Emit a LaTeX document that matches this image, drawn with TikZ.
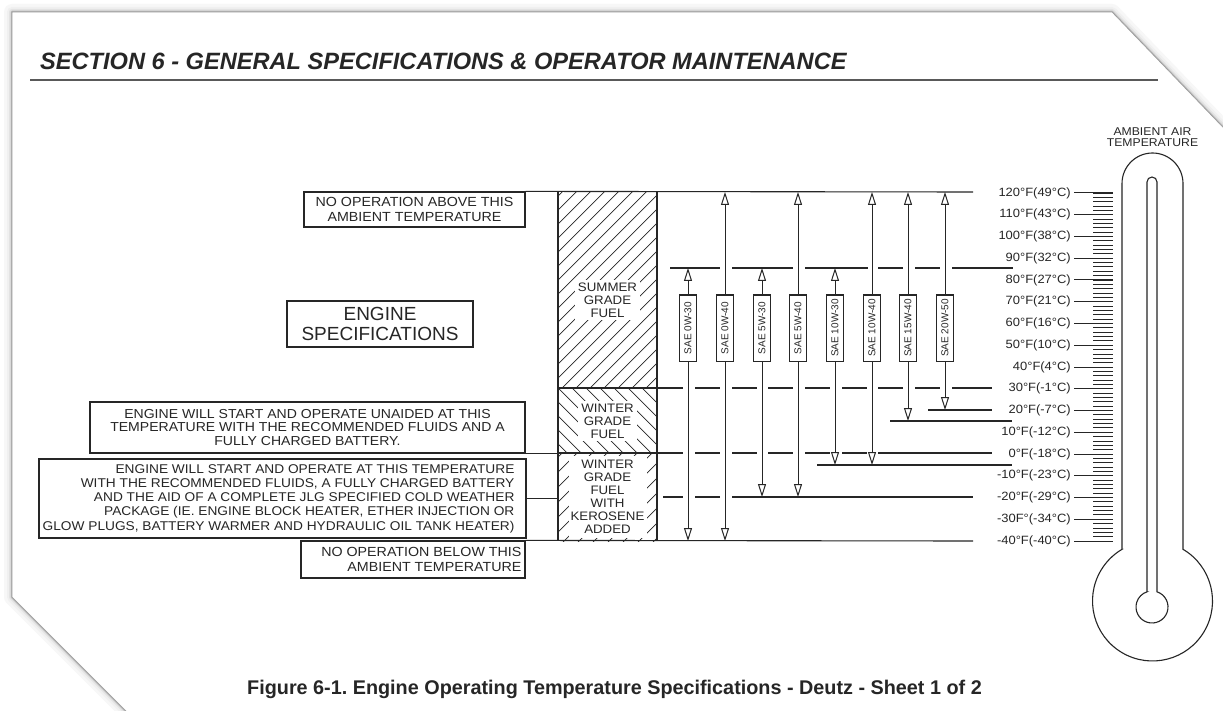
\documentclass[tikz,border=0pt]{standalone}
\usepackage{fontspec}
\setmainfont{Liberation Sans}
\newfontfamily\dg[FakeStretch=1.08]{Liberation Sans}
\usetikzlibrary{arrows.meta}
\definecolor{ink}{gray}{0.15}
\frenchspacing
\begin{document}
\begin{tikzpicture}[x=1pt,y=-1pt,
  ln/.style={draw=ink, line width=1.1pt},
  hatch/.style={draw=ink, line width=0.7pt},
  lbox/.style={draw=ink, line width=1.2pt, fill=white, inner sep=0pt, text=ink, font=\dg\fontsize{13}{14.3}\selectfont},
  btext/.style={inner sep=0pt, text=ink, font=\dg\fontsize{13}{14.3}\selectfont},
  fueltxt/.style={fill=white, inner sep=3pt, text=ink, align=center, font=\dg\fontsize{12.3}{13}\selectfont},
  saebox/.style={draw=ink, line width=1pt, fill=white, minimum width=17pt, minimum height=66pt, inner sep=0pt, text=ink, font=\fontsize{10}{11}\selectfont},
  arr/.style={draw=ink, line width=1pt, -{Triangle[open, length=13pt, width=8pt]}},
  tlab/.style={anchor=east, inner sep=0pt, text=ink, font=\dg\fontsize{12}{12}\selectfont},
  tick/.style={draw=ink, line width=0.9pt},
  thermo/.style={draw=ink, line width=1.1pt},
]
\useasboundingbox (0,0) rectangle (1223,711);
\clip (0,0) rectangle (1223,711);
\fill[white] (0,0) rectangle (1223,711);
% page with shadow
\foreach \w/\c in {16/3, 10/6, 6/11, 3/20, 1.5/32}{
  \draw[line width=\w pt, black!\c, line join=round] (12,12) -- (1112,12) -- (1240,145) -- (1240,730) -- (145,730) -- (12,597) -- cycle;
}
\fill[white] (12,12) -- (1112,12) -- (1240,145) -- (1240,730) -- (145,730) -- (12,597) -- cycle;
\draw[black!40, line width=0.6pt] (12,12) -- (1112,12) -- (1240,145) -- (1240,730) -- (145,730) -- (12,597) -- cycle;

% header
\node[anchor=base west, inner sep=0pt, text=ink, font=\bfseries\itshape\fontsize{23.6}{24}\selectfont] (hdr) at (40,70) {SECTION 6 - GENERAL SPECIFICATIONS \& OPERATOR MAINTENANCE};
\coordinate (ruleL) at (30,80);
\coordinate (ruleR) at (1158,80);
\draw[black!65, line width=2pt] (ruleL) -- (ruleR);

% fuel column hatching
\begin{scope}
  \clip (558,192) rectangle (657,388);
  \foreach \c in {740,754,...,1070} \draw[hatch] (\c-400,400) -- (\c-180,180);
\end{scope}
\begin{scope}
  \clip (558,388) rectangle (657,453);
  \foreach \c in {86,100,...,290} \draw[hatch] (\c+380,380) -- (\c+460,460);
\end{scope}
\begin{scope}
  \clip (558,453) rectangle (657,541);
  \foreach \c in {1000,1015,...,1210} \draw[hatch] (\c-450,450) -- (\c-545,545);
\end{scope}
\node[fueltxt] (sgf) at (607.5,300) {SUMMER\\GRADE\\FUEL};
\node[fueltxt] (wgf) at (607.5,421) {WINTER\\GRADE\\FUEL};
\node[fueltxt, minimum width=78pt, minimum height=82pt, inner sep=0pt] (wgk) at (607.5,497) {WINTER\\GRADE\\FUEL\\WITH\\KEROSENE\\ADDED};
\coordinate (fTL) at (558,192);
\coordinate (fTR) at (657,192);
\coordinate (fBL) at (558,541);
\coordinate (fBR) at (657,541);
\draw[ln] (fTL) -- (fBL);
\draw[ln] (fTR) -- (fBR);
\draw[ln] (558,388) -- (657,388);
\draw[ln] (558,453) -- (657,453);

% left boxes
\node[lbox, minimum width=221pt, minimum height=35pt, align=center, font=\dg\fontsize{13.2}{14.5}\selectfont] (nab) at (414.5,209.5) {NO OPERATION ABOVE THIS\\AMBIENT TEMPERATURE};
\node[lbox, minimum width=186pt, minimum height=46pt, align=center, font=\fontsize{19}{20}\selectfont] (es) at (380,324) {ENGINE\\SPECIFICATIONS};
\node[lbox, minimum width=435pt, minimum height=51pt, align=center, font=\dg\fontsize{13}{13.2}\selectfont] (nb) at (307.5,427.5) {ENGINE WILL START AND OPERATE UNAIDED AT THIS\\TEMPERATURE WITH THE RECOMMENDED FLUIDS AND A\\FULLY CHARGED BATTERY.};
\node[lbox, minimum width=487pt, minimum height=79pt] (ec) at (282.5,498.5) {};
\node[btext, anchor=east, align=right, font=\dg\fontsize{12.7}{14.25}\selectfont] (ect) at ([xshift=-12pt]ec.east) {ENGINE WILL START AND OPERATE AT THIS TEMPERATURE\\WITH THE RECOMMENDED FLUIDS, A FULLY CHARGED BATTERY\\AND THE AID OF A COMPLETE JLG SPECIFIED COLD WEATHER\\PACKAGE (IE. ENGINE BLOCK HEATER, ETHER INJECTION OR\\GLOW PLUGS, BATTERY WARMER AND HYDRAULIC OIL TANK HEATER)};
\node[lbox, minimum width=224pt, minimum height=37pt] (nbl) at (413,559.5) {};
\node[btext, anchor=east, align=right, font=\dg\fontsize{13.2}{14.5}\selectfont] (nblt) at ([xshift=-4pt]nbl.east) {NO OPERATION BELOW THIS\\AMBIENT TEMPERATURE};

% horizontal reference lines
\coordinate (top) at (973,192);
\coordinate (bot) at (973,541);
\draw[ln] (nab.north east) -- (top);
\draw[ln] (nbl.north east) -- (bot);
\draw[ln] (nb.south east) -- (fBL |- nb.south east);
\draw[ln] (ec.east) -- (fBL |- ec.east);

% dashed lines
\foreach \a/\b in {670/720, 732/793, 805/868, 878/903, 915/940, 952/1013}
  \draw[ln] (\a,268) -- (\b,268);
\foreach \a/\b in {657/683, 695/720, 732/757, 768/793, 805/830, 842/867, 878/903, 915/940, 952/992}
  \draw[ln] (\a,388) -- (\b,388);
\foreach \a/\b in {657/683, 695/720, 732/757, 768/793, 805/830, 842/867, 878/992}
  \draw[ln] (\a,453) -- (\b,453);
\foreach \a/\b in {663/683, 695/720, 732/973}
  \draw[ln] (\a,497) -- (\b,497);
\draw[ln] (928,410) -- (992,410);
\draw[ln] (890,421) -- (1012,421);
\draw[ln] (817,465) -- (1012,465);

% SAE grades
\foreach \i/\x/\u/\d/\t in {1/688/268/541/0W-30, 2/725/192/541/0W-40, 3/762/268/497/5W-30, 4/798/192/497/5W-40, 5/835/268/465/10W-30, 6/872/192/465/10W-40, 7/908/192/421/15W-40, 8/945/192/410/20W-50}{
  \node[saebox] (s\i) at (\x,328) {\rotatebox{90}{SAE \t}};
  \coordinate (u\i) at (\x,\u);
  \coordinate (d\i) at (\x,\d);
  \draw[arr] (s\i) -- (u\i);
  \draw[arr] (s\i) -- (d\i);
}

% temperature scale
\foreach \j in {0,...,80}
  \draw[tick] (1093,{193+4.35*\j}) -- (1113,{193+4.35*\j});
\foreach \i/\t in {0/120°F(49°C), 1/110°F(43°C), 2/100°F(38°C), 3/90°F(32°C), 4/80°F(27°C), 5/70°F(21°C), 6/60°F(16°C), 7/50°F(10°C), 8/40°F(4°C), 9/30°F(-1°C), 10/20°F(-7°C), 11/10°F(-12°C), 12/0°F(-18°C), 13/-10°F(-23°C), 14/-20°F(-29°C), 15/-30F°(-34°C), 16/-40°F(-40°C)}{
  \pgfmathsetmacro{\yy}{193+21.75*\i}
  \node[tlab] (L\i) at (1071,\yy) {\t};
  \draw[tick, line width=1pt] ([xshift=3pt]L\i.east) -- (1113,\yy);
}

% thermometer
\node[align=center, inner sep=0pt, text=ink, font=\dg\fontsize{11.3}{11.4}\selectfont] (aat) at (1152.5,137) {AMBIENT AIR\\TEMPERATURE};
\draw[thermo] (1122,549.3) -- (1122,183.5) arc[start angle=180, end angle=360, radius=30.5] -- (1183,549.3) arc[start angle=-59.45, end angle=239.45, radius=60] -- cycle;
\draw[thermo] (1147,591.8) -- (1147,182) arc[start angle=180, end angle=360, radius=5] -- (1157,591.8) arc[start angle=-71.8, end angle=251.8, radius=16] -- cycle;

% caption
\node[anchor=base, inner sep=0pt, text=ink, font=\bfseries\fontsize{19.8}{20}\selectfont] (cap) at (614.5,694) {Figure 6-1. Engine Operating Temperature Specifications - Deutz - Sheet 1 of 2};
\end{tikzpicture}
\end{document}
